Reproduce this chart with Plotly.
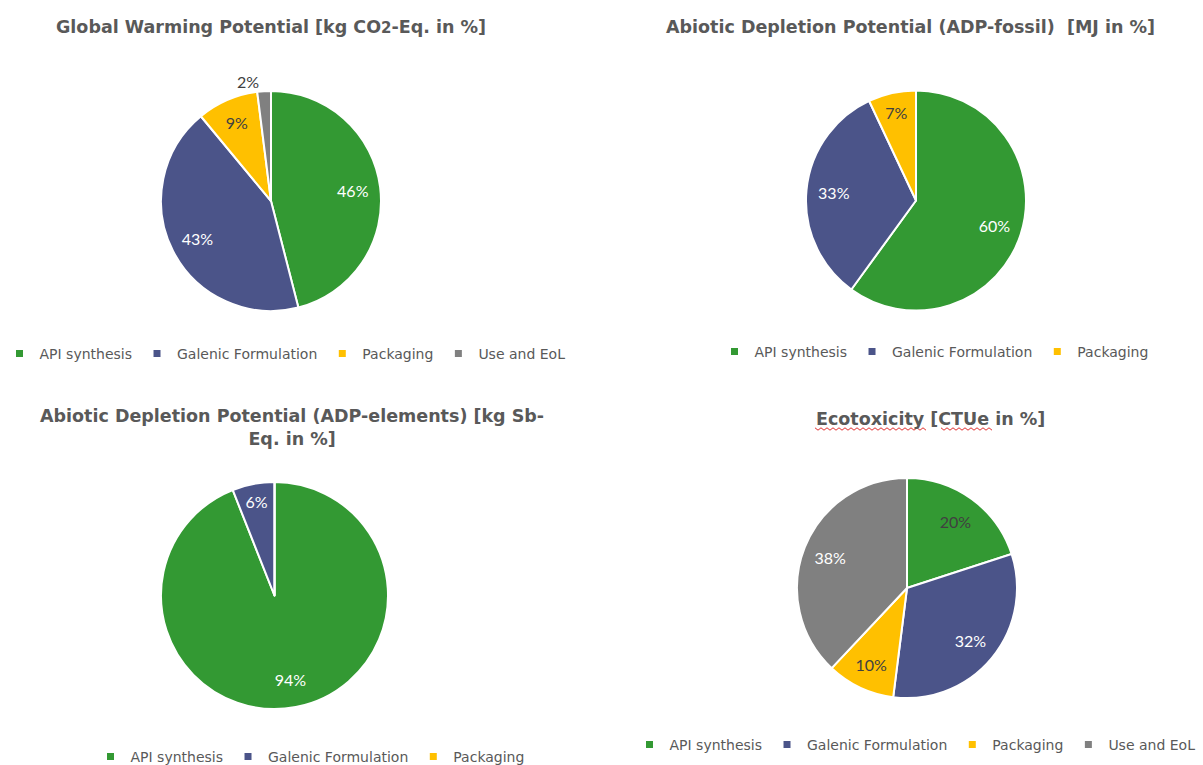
import plotly.graph_objects as go

W, H = 1203, 765

categories = ["API synthesis", "Galenic Formulation", "Packaging", "Use and EoL"]
colors = ["#339933", "#4b5489", "#ffc000", "#808080"]

gwp_values = [46, 43, 9, 2]
adp_fossil_values = [60, 33, 7]
adp_elements_values = [94, 6, 0]
ecotox_values = [20, 32, 10, 38]

titles = [
    "Global Warming Potential [kg CO<span style='font-size:15px'>2</span>-Eq. in %]",
    "Abiotic Depletion Potential (ADP-fossil)  [MJ in %]",
    "Abiotic Depletion Potential (ADP-elements) [kg Sb-<br>Eq. in %]",
    "Ecotoxicity [CTUe in %]",
]

DARK = "#404040"
WHITE = "#ffffff"
GREY_TEXT = "#595959"


def px_dom(cx, cy, r):
    return dict(x=[(cx - r) / W, (cx + r) / W], y=[1 - (cy + r) / H, 1 - (cy - r) / H])


def pie_slices(values, dom):
    n = len(values)
    return go.Pie(
        labels=categories[:n], values=values, sort=False,
        direction="clockwise", rotation=0, domain=dom,
        marker=dict(colors=colors[:n], line=dict(color="white", width=2)),
        textinfo="none", showlegend=False, hoverinfo="label+value",
    )


def pie_labels(values, dom, text_colors, positions):
    # transparent ring on top of the pie: its slices carry the percentage labels
    n = len(values)
    return go.Pie(
        labels=categories[:n], values=values, sort=False,
        direction="clockwise", rotation=0, domain=dom, hole=0.5,
        marker=dict(colors=["rgba(0,0,0,0)"] * n, line=dict(width=0)),
        texttemplate="%{value}%", textposition=positions,
        insidetextorientation="horizontal",
        textfont=dict(family="Lato", size=16, color=text_colors),
        outsidetextfont=dict(family="Lato", size=16, color=DARK),
        showlegend=False, hoverinfo="skip",
    )


charts = [
    (gwp_values, px_dom(271, 201, 110), [WHITE, WHITE, DARK, DARK],
     ["inside", "inside", "inside", "outside"]),
    (adp_fossil_values, px_dom(916, 200.5, 110), [WHITE, WHITE, DARK],
     ["inside", "inside", "inside"]),
    (adp_elements_values, px_dom(274.5, 595.5, 113.5), [WHITE, WHITE, DARK],
     ["inside", "inside", "none"]),
    (ecotox_values, px_dom(907, 588, 110), [DARK, WHITE, DARK, WHITE],
     ["inside", "inside", "inside", "inside"]),
]

fig = go.Figure()
for vals, dom, tcol, pos in charts:
    fig.add_trace(pie_slices(vals, dom))
    fig.add_trace(pie_labels(vals, dom, tcol, pos))

# legend entries: one per category shown under each pie
legend_ids = ["legend", "legend2", "legend3", "legend4"]
for lid, (vals, _, _, _) in zip(legend_ids, charts):
    for name, col in zip(categories[:len(vals)], colors):
        fig.add_trace(go.Scatter(
            x=[None], y=[None], mode="markers", name=name,
            marker=dict(symbol="square", size=7, color=col),
            legend=lid, showlegend=True, hoverinfo="skip",
        ))

legend_font = dict(family="DejaVu Sans", size=14, color=GREY_TEXT)


def legend_cfg(x, y):
    return dict(orientation="h", x=x / W, y=1 - y / H, xanchor="center", yanchor="middle",
                font=legend_font, itemwidth=30, bgcolor="rgba(0,0,0,0)",
                itemclick=False, itemdoubleclick=False, traceorder="normal")


title_font = dict(family="DejaVu Sans", size=17.5, color=GREY_TEXT, weight="bold")
annotations = [
    dict(text=titles[0], x=271 / W, y=1 - 27 / H),
    dict(text=titles[1], x=911 / W, y=1 - 27 / H),
    dict(text=titles[2], x=292 / W, y=1 - 427 / H),
    dict(text=titles[3], x=930 / W, y=1 - 419 / H),
]
for a in annotations:
    a.update(xref="paper", yref="paper", xanchor="center", yanchor="middle",
             showarrow=False, font=title_font)


# spell-check squiggles under the ecotoxicity title
def squiggle(x0, x1, y, step=3.0, amp=1.2):
    pts = []
    x = x0
    k = 0
    while x <= x1:
        yy = y + (amp if k % 2 else -amp)
        pts.append(f"{x / W:.5f},{1 - yy / H:.5f}")
        x += step
        k += 1
    return "M" + " L".join(pts)


shapes = [
    dict(type="path", xref="paper", yref="paper", path=squiggle(815, 927, 429),
         line=dict(color="#e03030", width=1)),
    dict(type="path", xref="paper", yref="paper", path=squiggle(941, 993, 429),
         line=dict(color="#e03030", width=1)),
]

fig.update_layout(
    width=W, height=H,
    margin=dict(l=0, r=0, t=0, b=0, autoexpand=False),
    paper_bgcolor="white",
    plot_bgcolor="white",
    xaxis=dict(visible=False),
    yaxis=dict(visible=False),
    annotations=annotations,
    shapes=shapes,
    legend=legend_cfg(285, 354),
    legend2=legend_cfg(934, 352),
    legend3=legend_cfg(310, 757),
    legend4=legend_cfg(915, 745),
    uniformtext=dict(minsize=16, mode="show"),
)

fig.write_html("out.html", config={"displayModeBar": False})
